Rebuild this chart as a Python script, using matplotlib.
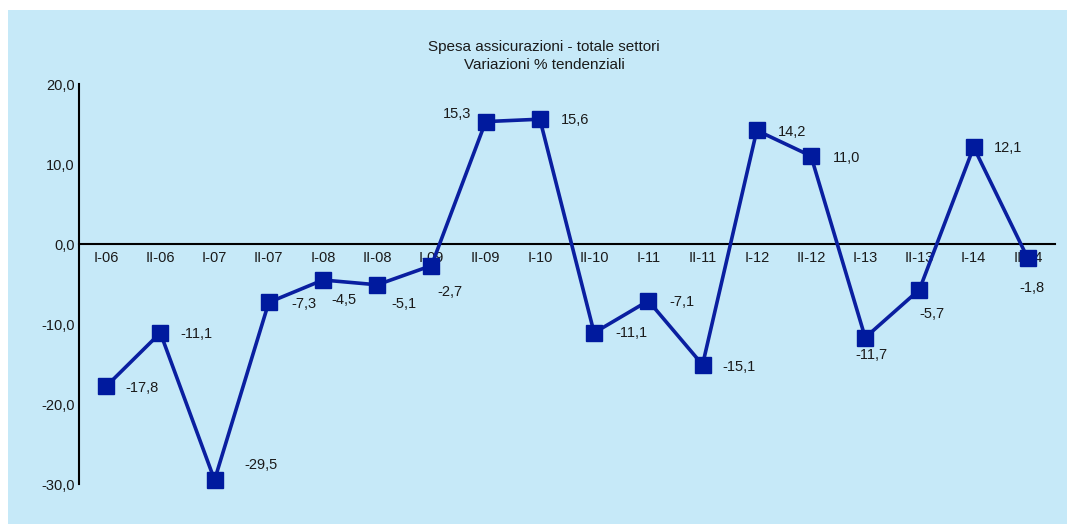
import matplotlib
matplotlib.use("Agg")
import matplotlib.pyplot as plt
from matplotlib.patches import Rectangle
from matplotlib.ticker import FuncFormatter

categories = ["I-06", "II-06", "I-07", "II-07", "I-08", "II-08", "I-09", "II-09",
              "I-10", "II-10", "I-11", "II-11", "I-12", "II-12", "I-13", "II-13",
              "I-14", "II-14"]
values = [-17.8, -11.1, -29.5, -7.3, -4.5, -5.1, -2.7, 15.3, 15.6, -11.1,
          -7.1, -15.1, 14.2, 11.0, -11.7, -5.7, 12.1, -1.8]
title_lines = ["Spesa assicurazioni - totale settori", "Variazioni % tendenziali"]

# label offsets (pixels) relative to each point: style only
label_offsets = [(36, -2), (36, -1), (46, 15), (35, -2), (21, -20), (27, -19),
                 (18, -26), (-29, 8), (35, -1), (37, 0), (34, -1), (36, -2),
                 (35, -2), (36, -2), (6, -17), (12, -24), (34, -1), (4, -30)]

plt.rcParams['font.family'] = ['Liberation Sans', 'DejaVu Sans']

W, H = 1067, 524
fig = plt.figure(figsize=(W / 100, H / 100), dpi=100, facecolor='white')
bg = '#C6E9F8'
fig.patches.append(Rectangle((8 / W, 0), 1 - 8 / W, 1 - 10 / H, transform=fig.transFigure,
                             facecolor=bg, edgecolor='none', zorder=-10))

ax = fig.add_axes([79 / W, (H - 484) / H, (1055 - 79) / W, 400 / H])
ax.set_facecolor('none')
ax.set_zorder(1)

x = list(range(len(categories)))
ax.plot(x, values, color='#0A1FA0', lw=2.6, marker='s', markersize=11,
        markerfacecolor='#001A9E', markeredgecolor='#001A9E', zorder=5, clip_on=False)

for xi, v, (dx, dy) in zip(x, values, label_offsets):
    ax.annotate(f"{v:.1f}".replace('.', ','), (xi, v), xytext=(dx, dy),
                textcoords='offset pixels', ha='center', va='center',
                fontsize=10.5, color='#1a1a1a', zorder=6)

ax.set_xlim(-0.5, len(categories) - 0.5)
ax.set_ylim(-30, 20)
ax.set_yticks([-30, -20, -10, 0, 10, 20])
ax.yaxis.set_major_formatter(FuncFormatter(lambda v, p: f"{v:.1f}".replace('.', ',')))
ax.set_xticks(x)
ax.set_xticklabels(categories)

for s in ['top', 'right']:
    ax.spines[s].set_visible(False)
ax.spines['bottom'].set_position(('data', 0))
ax.spines['bottom'].set_linewidth(1.5)
ax.spines['left'].set_linewidth(1.5)
ax.spines['bottom'].set_zorder(4)
ax.tick_params(axis='both', length=0, labelsize=10.5, colors='#1a1a1a')
ax.tick_params(axis='x', pad=5)
ax.tick_params(axis='y', pad=3)
for lab in ax.get_xticklabels():
    lab.set_zorder(3)

fig.text(544 / W, 1 - 47 / H, title_lines[0], ha='center', va='center', fontsize=11, color='#1a1a1a')
fig.text(544 / W, 1 - 65 / H, title_lines[1], ha='center', va='center', fontsize=11, color='#1a1a1a')

fig.savefig('out.png', dpi=100, facecolor='white')
